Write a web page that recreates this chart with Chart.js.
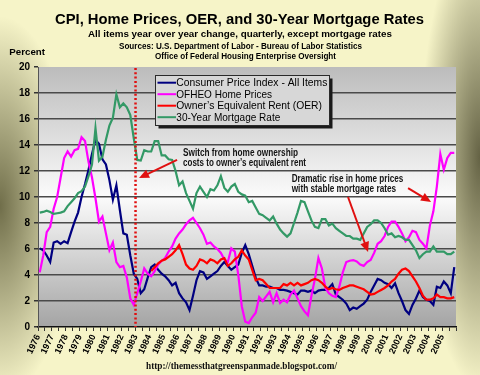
<!DOCTYPE html>
<html><head><meta charset="utf-8">
<script src="https://cdn.jsdelivr.net/npm/chart.js@4.4.1/dist/chart.umd.min.js"></script>
<style>
html,body{margin:0;padding:0;width:480px;height:375px;overflow:hidden;}
body{background:
 radial-gradient(ellipse 75px 190px at 0% 55%, rgba(112,110,74,1) 0%, rgba(112,110,74,0) 100%),
 radial-gradient(ellipse 60px 230px at 100% 42%, rgba(100,98,68,1) 0%, rgba(100,98,68,0) 100%),
 #f6f4c8;}
canvas{display:block;}
</style></head><body>
<canvas id="c" width="480" height="375"></canvas>
<script>
const years = [1976,1977,1978,1979,1980,1981,1982,1983,1984,1985,1986,1987,1988,1989,1990,
               1991,1992,1993,1994,1995,1996,1997,1998,1999,2000,2001,2002,2003,2004,2005];
const quarters = [];
years.forEach(y => { for (let q = 0; q < 4; q++) quarters.push(y + q / 4 + 0.125); });
const yTicks = [0,2,4,6,8,10,12,14,16,18,20];

const seriesNames = ["Consumer Price Index - All Items","OFHEO Home Prices","Owner\u2019s Equivalent Rent (OER)","30-Year Mortgage Rate"];

const cpi = [
6.05,5.9,5.5,5.0, 6.5,6.6,6.4,6.6, 6.45,7.3,8.1,8.8, 10.0,11.0,12.1,13.3,
14.4,14.1,12.9,12.5, 11.3,9.8,10.9,9.0, 7.2,7.1,5.5,4.1, 3.7,2.6,2.9,3.8,
4.6,4.8,4.4,4.1, 3.9,3.6,3.2,3.4, 2.6,2.2,1.9,1.3, 2.4,3.6,4.3,4.2,
3.7,3.9,4.1,4.3, 4.7,5.0,4.7,4.4, 4.6,4.8,5.7,6.3, 5.6,4.7,3.8,3.2,
3.2,3.1,3.1,3.0, 3.0,2.85,2.85,2.8, 2.7,2.6,2.5,2.8, 2.8,2.7,2.8,2.6,
2.8,2.85,2.85,3.0, 3.3,2.5,2.3,2.1, 1.8,1.3,1.5,1.4, 1.6,1.8,2.1,2.7,
3.2,3.7,3.6,3.4, 3.3,3.0,3.36,2.6, 2.0,1.3,1.0,1.7, 2.2,2.8,2.3,2.1,
2.0,1.7,3.1,3.0, 3.5,3.2,2.6,4.6];

const ofheo = [
4.2,5.5,7.3,7.7, 9.1,10.0,11.5,13.0, 13.5,13.1,13.6,13.7, 14.6,14.3,12.7,11.5,
9.9,8.1,8.5,7.2, 5.9,6.5,5.0,4.6, 4.7,3.8,2.2,1.7, 2.6,3.5,4.5,4.1,
3.9,4.3,4.8,5.1, 5.3,5.8,6.2,6.8, 7.2,7.5,7.9,8.2, 8.4,8.0,7.6,7.1,
6.4,6.5,6.2,6.0, 5.7,5.2,5.0,6.05, 5.8,4.0,1.6,0.4, 0.3,0.75,1.1,2.3,
2.0,2.35,2.7,1.9, 2.6,1.85,2.1,1.9, 2.5,2.8,2.2,1.6, 1.2,0.9,2.4,3.7,
5.3,4.5,3.0,2.6, 2.4,2.3,3.1,4.2, 5.0,5.1,5.15,5.05, 4.8,4.7,5.0,5.15,
5.7,6.4,6.6,7.0, 7.7,8.1,8.1,7.7, 7.2,6.6,6.9,7.4, 7.3,6.7,6.4,6.05,
7.8,8.9,10.8,13.3, 12.1,13.0,13.4,13.4];

const oer = [
null,null,null,null, null,null,null,null, null,null,null,null, null,null,null,null,
null,null,null,null, null,null,null,null, null,null,null,null, null,null,null,null,
4.3,4.6,4.9,5.1, 5.2,5.4,5.6,5.9, 6.3,5.6,4.8,4.5, 4.4,4.7,5.2,5.1,
4.9,5.2,5.1,4.9, 5.2,5.3,4.7,4.9, 5.2,5.4,5.9,5.5, 5.2,4.4,3.6,3.7,
3.6,3.3,3.0,3.0, 3.0,3.0,3.3,3.2, 3.4,3.2,3.4,3.2, 3.3,3.4,3.6,3.7,
3.6,3.4,3.1,2.9, 3.0,2.9,2.85,3.0, 3.1,3.2,3.2,3.1, 3.0,2.9,2.7,2.5,
2.55,2.7,2.85,3.0, 3.2,3.5,3.7,4.1, 4.4,4.5,4.3,3.9, 3.5,3.0,2.4,2.1,
2.1,2.2,2.5,2.3, 2.3,2.2,2.2,2.3];

const mortgage = [
8.8,8.85,8.95,8.85, 8.7,8.75,8.8,8.9, 9.3,9.6,9.9,10.3, 10.45,10.8,11.6,12.5,
15.3,12.8,13.1,14.4, 15.5,16.1,17.9,16.9, 17.2,16.9,16.3,14.5, 12.85,12.8,13.6,13.5,
13.5,14.3,14.3,13.2, 13.2,12.9,12.85,12.0, 10.9,11.2,10.3,9.7, 9.1,10.3,10.8,10.4,
10.0,10.6,10.5,10.9, 11.6,10.7,10.4,10.8, 11.0,10.4,10.2,10.1, 9.6,9.7,9.2,8.7,
8.6,8.4,8.2,8.5, 7.95,7.5,7.2,6.95, 7.2,8.0,8.8,9.7, 9.6,8.9,8.2,7.7,
7.6,8.3,8.3,7.8, 7.95,7.6,7.4,7.2, 7.0,7.0,6.8,6.8, 6.7,7.2,7.7,7.9,
8.2,8.2,8.0,7.6, 7.1,7.2,6.9,7.0, 6.9,6.7,6.7,6.3, 5.9,5.3,5.6,5.8,
5.8,6.2,5.8,5.8, 5.8,5.6,5.6,5.8];

const colors = ['#000080','#ff00ff','#ff0000','#339966'];
const switchYear = 1983;

const ARIAL = 'Arial, "Liberation Sans", Helvetica, sans-serif';
const SERIF = '"Times New Roman", "Liberation Serif", serif';
Chart.defaults.font.family = ARIAL;

function txt(ctx, s, x, y, w, size, weight, fam, align, color) {
  ctx.save();
  ctx.font = weight + ' ' + size + 'px ' + fam;
  const m = ctx.measureText(s).width;
  const sx = w ? w / m : 1;
  ctx.translate(x, y); ctx.scale(sx, 1);
  ctx.textAlign = align; ctx.textBaseline = 'alphabetic';
  ctx.fillStyle = color || '#000';
  ctx.fillText(s, 0, 0);
  ctx.restore();
}
function arrow(ctx, x1, y1, x2, y2) {
  const ang = Math.atan2(y2 - y1, x2 - x1), L = 10, W = 4.5;
  ctx.save();
  ctx.strokeStyle = '#e01010'; ctx.fillStyle = '#e01010'; ctx.lineWidth = 2;
  ctx.beginPath(); ctx.moveTo(x1, y1);
  ctx.lineTo(x2 - Math.cos(ang) * L * 0.8, y2 - Math.sin(ang) * L * 0.8); ctx.stroke();
  ctx.beginPath(); ctx.moveTo(x2, y2);
  ctx.lineTo(x2 - Math.cos(ang) * L - Math.sin(ang) * W, y2 - Math.sin(ang) * L + Math.cos(ang) * W);
  ctx.lineTo(x2 - Math.cos(ang) * L + Math.sin(ang) * W, y2 - Math.sin(ang) * L - Math.cos(ang) * W);
  ctx.closePath(); ctx.fill();
  ctx.restore();
}

const deco = {
  id: 'deco',
  beforeDraw(chart) {
    const {ctx, chartArea: a} = chart;
    const g = ctx.createLinearGradient(0, a.top, 0, a.bottom);
    g.addColorStop(0, '#bcbcbc'); g.addColorStop(0.5, '#fbfbfb'); g.addColorStop(1, '#a4a4a4');
    ctx.save(); ctx.fillStyle = g;
    ctx.fillRect(a.left, a.top, a.right - a.left, a.bottom - a.top);
    ctx.restore();
  },
  afterDatasetsDraw(chart) {
    const {ctx, chartArea: a, scales: {x, y}} = chart;
    // dotted switch line
    const sx = x.getPixelForValue(switchYear);
    ctx.save();
    ctx.strokeStyle = '#e01010'; ctx.lineWidth = 2.5; ctx.setLineDash([2, 2.3]);
    ctx.beginPath(); ctx.moveTo(sx, a.top + 1); ctx.lineTo(sx, a.bottom); ctx.stroke();
    ctx.restore();
    const P = (yr, v) => [x.getPixelForValue(yr), y.getPixelForValue(v)];
    const arrows = [[[1985.98, 12.85], [1983.25, 11.46]],
                    [[2002.56, 10.69], [2004.21, 9.62]],
                    [[1998.25, 10.0], [1999.69, 5.77]]];
    arrows.forEach(([f, t]) => { const p1 = P(f[0], f[1]), p2 = P(t[0], t[1]); arrow(ctx, p1[0], p1[1], p2[0], p2[1]); });
    // annotation texts
    txt(ctx, 'Switch from home ownership', 183, 155.7, 115, 10.2, 'bold', ARIAL, 'left', '#141414');
    txt(ctx, 'costs to owner\u2019s equivalent rent', 183, 166.3, 123, 10.2, 'bold', ARIAL, 'left', '#141414');
    txt(ctx, 'Dramatic rise in home prices', 291.7, 182, 111.6, 10.2, 'bold', ARIAL, 'left', '#141414');
    txt(ctx, 'with stable mortgage rates', 291.7, 192.3, 104.5, 10.2, 'bold', ARIAL, 'left', '#141414');
  },
  afterDraw(chart) {
    const {ctx} = chart;
    // titles
    txt(ctx, 'CPI, Home Prices, OER, and 30-Year Mortgage Rates', 239.5, 23.5, 369, 14.5, 'bold', ARIAL, 'center');
    txt(ctx, 'All items year over year change, quarterly, except mortgage rates', 240, 37.2, 304, 9.4, 'bold', ARIAL, 'center');
    txt(ctx, 'Sources: U.S. Department of Labor - Bureau of Labor Statistics', 240.5, 48.6, 243, 8.6, 'bold', ARIAL, 'center');
    txt(ctx, 'Office of Federal Housing Enterprise Oversight', 245.5, 59.2, 181, 8.6, 'bold', ARIAL, 'center');
    txt(ctx, 'Percent', 9.3, 55, 35.7, 9.8, 'bold', ARIAL, 'left');
    txt(ctx, 'http://themessthatgreenspanmade.blogspot.com/', 241.5, 368.5, 191, 9.5, 'bold', SERIF, 'center', '#111');
    // legend
    const lx = 155.5, ly = 75.5, lw = 174, lh = 50;
    ctx.save();
    ctx.fillStyle = '#1a1a1a'; ctx.fillRect(lx + 3, ly + 3, lw, lh);
    ctx.fillStyle = '#d7d7d7'; ctx.fillRect(lx, ly, lw, lh);
    ctx.strokeStyle = '#2a2a2a'; ctx.lineWidth = 1; ctx.strokeRect(lx, ly, lw, lh);
    const rows = [82.7, 94.2, 105.7, 117.2];
    const widths = [151, 95.7, 145.7, 104];
    seriesNames.forEach((n, i) => {
      ctx.strokeStyle = colors[i]; ctx.lineWidth = 2;
      ctx.beginPath(); ctx.moveTo(157.5, rows[i]); ctx.lineTo(176, rows[i]); ctx.stroke();
      txt(ctx, n, 176.3, rows[i] + 3.7, widths[i], 10.3, 'normal', ARIAL, 'left', '#000');
    });
    ctx.restore();
  }
};

const mk = (arr) => arr.map((v, i) => ({x: quarters[i], y: v}));
const series = [cpi, ofheo, oer, mortgage];

new Chart(document.getElementById('c'), {
  type: 'line',
  data: {
    datasets: series.map((s, i) => ({
      label: seriesNames[i], data: mk(s), borderColor: colors[i], backgroundColor: colors[i],
      borderWidth: 2.2, pointRadius: 0, tension: 0, fill: false, spanGaps: false, order: 3 - i
    }))
  },
  options: {
    responsive: false, animation: false, events: [],
    layout: {padding: {top: 67, left: 0, right: 24, bottom: 0}},
    plugins: {legend: {display: false}, tooltip: {enabled: false}, title: {display: false}},
    scales: {
      x: {
        type: 'linear', min: years[0], max: years[years.length - 1] + 1,
        afterBuildTicks(s) {
          const t = [];
          for (let v = years[0]; v <= years[years.length - 1] + 1; v += 0.5) t.push({value: v});
          s.ticks = t;
        },
        afterFit(s) { s.height = 48; },
        border: {display: true, color: '#111', width: 1.5},
        grid: {drawOnChartArea: false, drawTicks: true, tickLength: 4, tickColor: '#333', lineWidth: 1},
        ticks: {
          autoSkip: false, minRotation: 65, maxRotation: 65, padding: 2,
          color: '#000', font: {size: 9, weight: 'bold'},
          callback: (v) => (Number.isInteger(v) && years.includes(v)) ? String(v) : ''
        }
      },
      y: {
        min: yTicks[0], max: yTicks[yTicks.length - 1],
        afterBuildTicks(s) { s.ticks = yTicks.map(v => ({value: v})); },
        afterFit(s) { s.width = 38; },
        border: {display: true, color: '#555', width: 1},
        grid: {
          color: (c) => (c.tick && (c.tick.value === 0 || c.tick.value === 20)) ? 'rgba(0,0,0,0)' : '#4a4a4a',
          lineWidth: 1.5, drawTicks: true, tickLength: 4, tickColor: '#333'
        },
        ticks: {padding: 4, color: '#000', font: {size: 10, weight: 'bold'}}
      }
    }
  },
  plugins: [deco]
});
</script>
</body></html>
